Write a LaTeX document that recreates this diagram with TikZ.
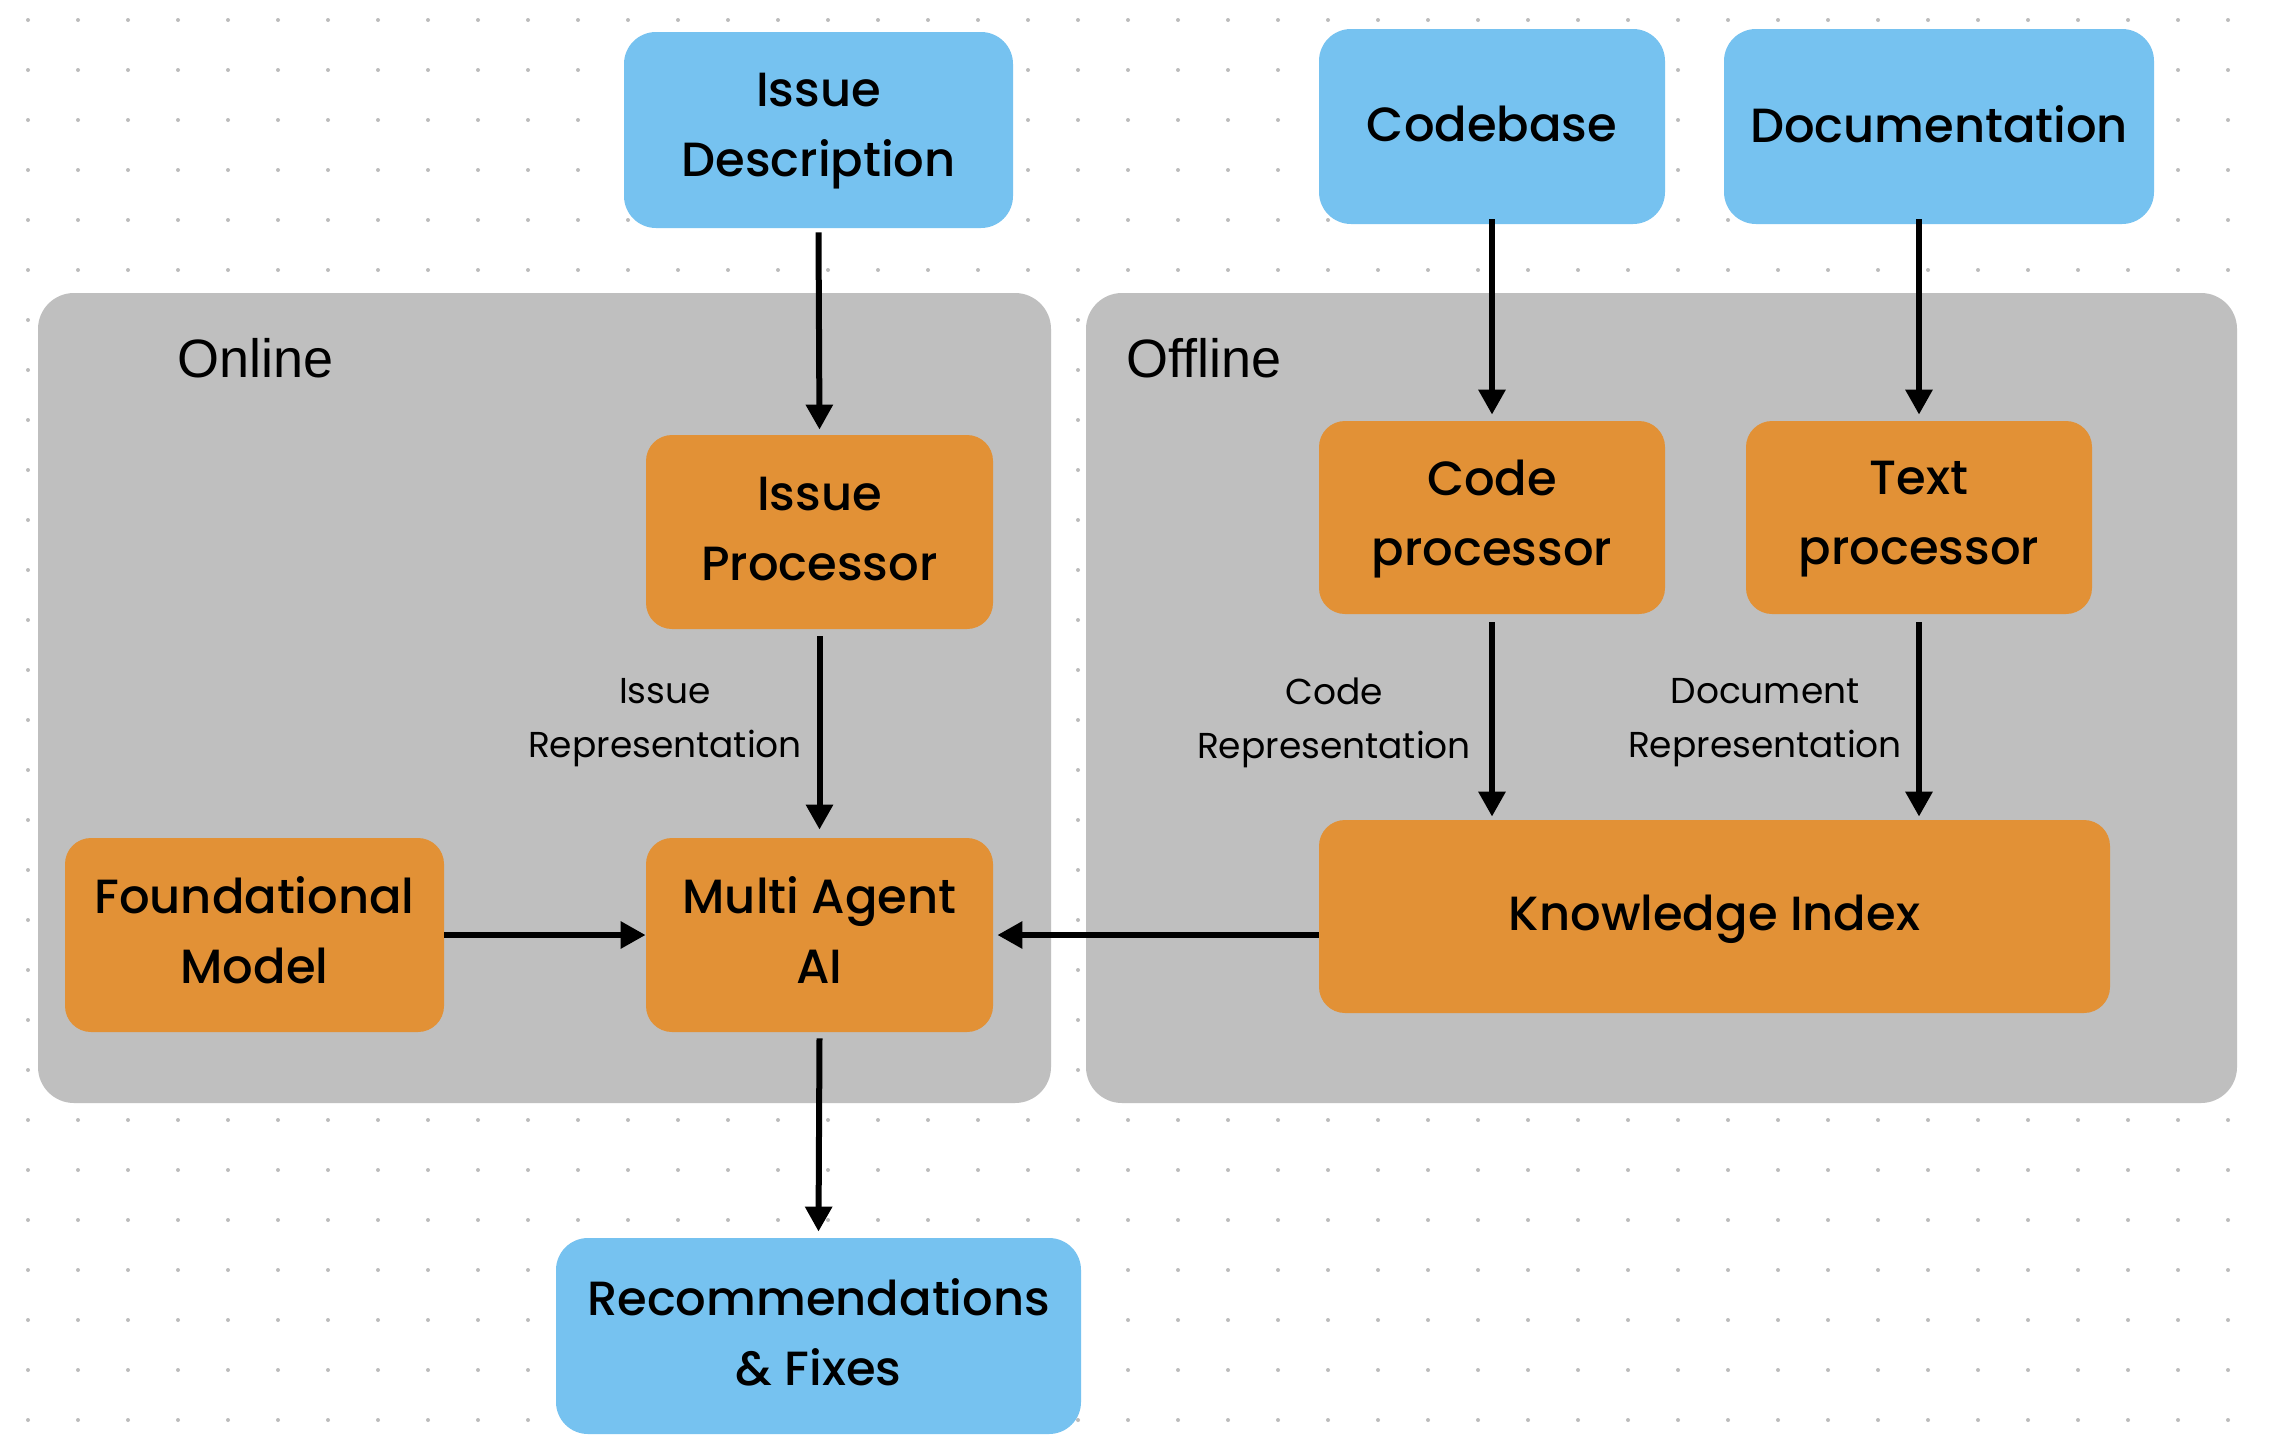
\documentclass[tikz,border=0pt]{standalone}
\usepackage{fontspec}
\setmainfont{Poppins}
\newfontfamily\pmed{Poppins Medium}
\newfontfamily\arialf{Liberation Sans}
\usetikzlibrary{arrows.meta}
\definecolor{bluebox}{RGB}{118,194,240}
\definecolor{orangebox}{RGB}{226,145,54}
\definecolor{panel}{RGB}{191,191,191}
\definecolor{dotc}{RGB}{188,188,188}
\begin{document}
\begin{tikzpicture}[x=0.5pt,y=-0.5pt,
  base/.style={rounded corners=13pt, inner sep=0pt},
  srcbox/.style={base, fill=bluebox, rounded corners=16pt},
  procbox/.style={base, fill=orangebox},
  boxtext/.style={inner sep=0pt, align=center, font=\pmed\fontsize{24}{35}\selectfont},
  panelbox/.style={fill=panel, rounded corners=18pt, inner sep=0pt},
  flow/.style={line width=3pt, -{Triangle[width=13pt,length=12.5pt]}},
  edgelabel/.style={font=\fontsize{18}{27}\selectfont, align=center, inner sep=0pt},
  paneltitle/.style={font=\arialf\fontsize{27}{33}\selectfont, inner sep=0pt}
]
\fill[white] (0,0) rectangle (2276,1456);
\useasboundingbox (0,0) rectangle (2276,1456);
\foreach \i in {0,...,44}{\foreach \j in {0,...,28}{\fill[dotc] ({28+50*\i},{20+50*\j}) circle (1pt);}}

% panels
\node[panelbox, minimum width=506.5pt, minimum height=405pt] (online) at (544.5,698) {};
\node[panelbox, minimum width=575.5pt, minimum height=405pt] (offline) at (1661.5,698) {};
\node[paneltitle, anchor=base west] (onlinet) at (177,377) {Online};
\node[paneltitle, anchor=base west] (offlinet) at (1126,377) {Offline};

% sources / outputs
\node[srcbox, minimum width=194.5pt, minimum height=98pt] (issue) at (818.5,130) {};
\node[srcbox, minimum width=173pt, minimum height=97.5pt] (codebase) at (1492,126.5) {};
\node[srcbox, minimum width=215pt, minimum height=97.5pt] (docs) at (1939,126.5) {};
\node[srcbox, minimum width=262.5pt, minimum height=98pt] (recs) at (818.5,1336) {};

% processors
\node[procbox, minimum width=173.5pt, minimum height=97pt] (isproc) at (819.5,532) {};
\node[procbox, minimum width=173.5pt, minimum height=97pt] (multi) at (819.5,935) {};
\node[procbox, minimum width=189.5pt, minimum height=97pt] (found) at (254.5,935) {};
\node[procbox, minimum width=173pt, minimum height=96.5pt] (codeproc) at (1492,517.5) {};
\node[procbox, minimum width=173pt, minimum height=96.5pt] (textproc) at (1919,517.5) {};
\node[procbox, minimum width=395.5pt, minimum height=96.5pt] (know) at (1714.5,916.5) {};

% box texts
\node[boxtext] (issuet) at ([yshift=-0.75pt]issue.center) {Issue\\Description};
\node[boxtext] (codebaset) at ([yshift=1.3pt]codebase.center) {Codebase};
\node[boxtext] (docst) at ([yshift=1.3pt]docs.center) {Documentation};
\node[boxtext] (recst) at ([yshift=1.8pt]recs.center) {Recommendations\\\& Fixes};
\node[boxtext] (isproct) at ([yshift=1.5pt]isproc.center) {Issue\\Processor};
\node[boxtext] (multit) at ([yshift=2.25pt]multi.center) {Multi Agent\\AI};
\node[boxtext] (foundt) at ([yshift=2.25pt]found.center) {Foundational\\Model};
\node[boxtext] (codeproct) at ([yshift=-0.75pt]codeproc.center) {Code\\processor};
\node[boxtext] (textproct) at ([yshift=-0.75pt]textproc.center) {Text\\processor};
\node[boxtext] (knowt) at ([yshift=-1.5pt]know.center) {Knowledge Index};

% edge labels
\node[edgelabel] (lblissue) at (665,723) {Issue\\Representation};
\node[edgelabel] (lblcode) at (1334,723) {Code\\Representation};
\node[edgelabel] (lbldoc) at (1765,723) {Document\\Representation};

% connectors
\draw[flow] ([yshift=-2pt]issue.south) -- ([yshift=2.5pt]isproc.north);
\draw[flow] ([yshift=-3.5pt]isproc.south) -- ([yshift=4pt]multi.north);
\draw[flow] (found.east) -- (multi.west);
\draw[flow] (multi.east -| know.west) -- ([xshift=2pt]multi.east);
\draw[flow] ([yshift=-3pt]multi.south) -- ([yshift=3pt]recs.north);
\draw[flow] ([yshift=2.5pt]codebase.south) -- ([yshift=3pt]codeproc.north);
\draw[flow] ([yshift=2.5pt]textproc.north |- docs.south) -- ([yshift=3pt]textproc.north);
\draw[flow] ([yshift=-4pt]codeproc.south) -- ([yshift=1.5pt]codeproc.south |- know.north);
\draw[flow] ([yshift=-4pt]textproc.south) -- ([yshift=1.5pt]textproc.south |- know.north);
\end{tikzpicture}
\end{document}
